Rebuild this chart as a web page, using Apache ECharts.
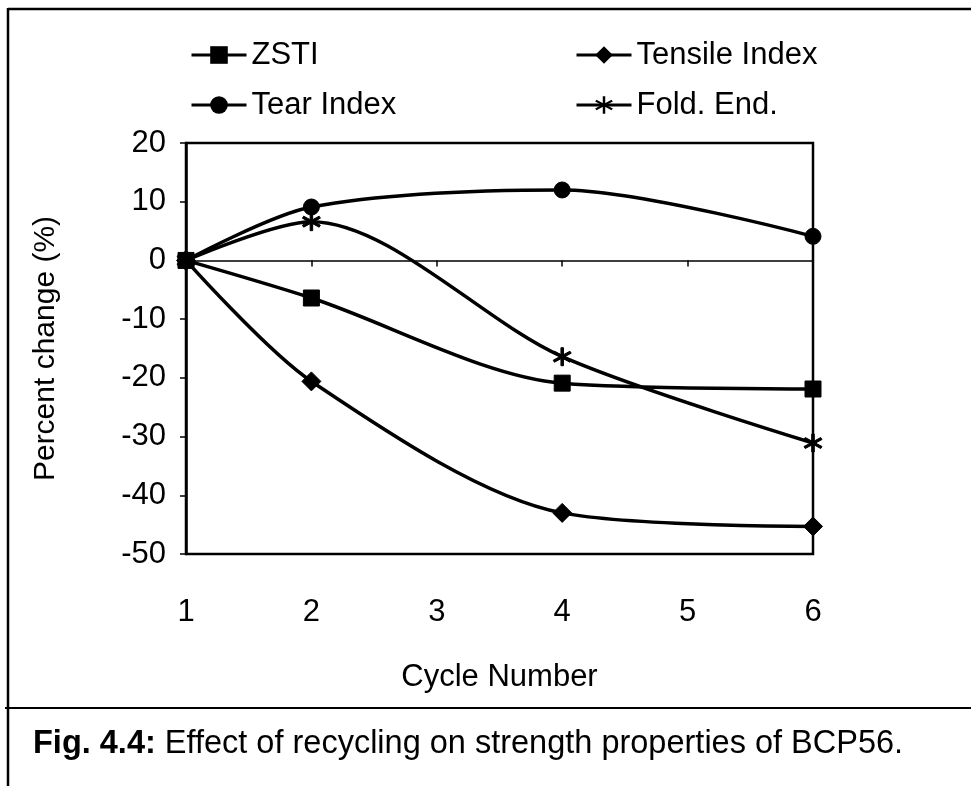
<!DOCTYPE html>
<html>
<head>
<meta charset="utf-8">
<script src="https://cdn.jsdelivr.net/npm/echarts@6/dist/echarts.min.js"></script>
<style>
  html, body { margin: 0; padding: 0; background: #fff; }
  #chart { width: 971px; height: 786px; }
</style>
</head>
<body>
<div id="chart"></div>
<script>
// Recycling cycles and percent change of each strength property
const cycles = [1, 2, 4, 6];
const zsti = [0, -6.4, -20.9, -21.9];
const tensileIndex = [0, -20.6, -43.0, -45.3];
const tearIndex = [0, 9.1, 12.0, 4.1];
const foldEnd = [0, 6.6, -16.4, -31.1];
const xTicks = [1, 2, 3, 4, 5, 6];
const yTicks = [-50, -40, -30, -20, -10, 0, 10, 20];

const FONT = '"Liberation Sans", Arial, sans-serif';

// six-armed asterisk marker built from three bars
const asterisk = 'path://M-1.3,-10L1.3,-10L1.3,10L-1.3,10Z' +
  'M9.3,3.9L8,6.1L-9.3,-3.9L-8,-6.1Z' +
  'M9.3,-3.9L-8,6.1L-9.3,3.9L8,-6.1Z';

function pairs(vals) { return cycles.map((c, i) => [c, vals[i]]); }

function lineSeries(name, vals, symbol, size) {
  return {
    name: name,
    type: 'line',
    data: pairs(vals),
    smooth: 0.3,
    symbol: symbol,
    symbolSize: size,
    lineStyle: { color: '#000', width: 3.5 },
    itemStyle: { color: '#000', borderColor: '#000' },
    z: 5
  };
}

const chart = echarts.init(document.getElementById('chart'), null, { renderer: 'canvas' });

const legendText = { color: '#000', fontSize: 31, fontFamily: FONT, lineHeight: 34 };

function legendAt(names, left) {
  return {
    data: names,
    orient: 'vertical', left: left, top: 38, padding: 0,
    itemWidth: 55, itemHeight: 22, itemGap: 16,
    lineStyle: { width: 3, color: '#000' },
    itemStyle: { color: '#000' },
    textStyle: legendText, inactiveColor: '#000'
  };
}

chart.setOption({
  animation: false,
  backgroundColor: '#fff',
  textStyle: { fontFamily: FONT, color: '#000' },
  grid: {
    left: 186, right: 158, top: 143, bottom: 232,
    show: true, borderColor: '#000', borderWidth: 2.5, backgroundColor: 'transparent'
  },
  legend: [
    legendAt(['ZSTI', 'Tear Index'], 190),
    legendAt(['Tensile Index', 'Fold. End.'], 575)
  ],
  xAxis: [
    {
      // axis through zero with tick marks
      type: 'value', min: 1, max: 6, interval: 1,
      axisLine: { show: true, onZero: true, lineStyle: { color: '#000', width: 1.5 } },
      axisTick: { show: true, length: 6, lineStyle: { color: '#000', width: 1.5 } },
      axisLabel: { show: false },
      splitLine: { show: false }
    },
    {
      // cycle numbers along the bottom
      type: 'value', min: 1, max: 6, interval: 1, position: 'bottom',
      axisLine: { show: false, onZero: false },
      axisTick: { show: false },
      axisLabel: {
        show: true, margin: 43, fontSize: 31, color: '#000', fontFamily: FONT,
        formatter: v => (xTicks.indexOf(v) >= 0 ? String(v) : '')
      },
      splitLine: { show: false },
      name: 'Cycle Number', nameLocation: 'middle', nameGap: 108,
      nameTextStyle: { fontSize: 31, color: '#000', fontFamily: FONT }
    }
  ],
  yAxis: {
    type: 'value', min: yTicks[0], max: yTicks[yTicks.length - 1], interval: 10,
    axisLine: { show: true, lineStyle: { color: '#000', width: 2.5 } },
    axisTick: { show: true, inside: false, length: 6, lineStyle: { color: '#000', width: 1.5 } },
    axisLabel: { margin: 20, fontSize: 31, color: '#000', fontFamily: FONT },
    splitLine: { show: false },
    name: 'Percent change (%)', nameLocation: 'middle', nameGap: 125,
    nameTextStyle: { fontSize: 30, color: '#000', fontFamily: FONT }
  },
  series: [
    lineSeries('ZSTI', zsti, 'rect', 16),
    lineSeries('Tensile Index', tensileIndex, 'diamond', 19),
    lineSeries('Tear Index', tearIndex, 'circle', 16),
    lineSeries('Fold. End.', foldEnd, asterisk, 18)
  ],
  graphic: [
    // page frame and divider above the caption
    { type: 'line', shape: { x1: 8, y1: 8, x2: 8, y2: 786 }, style: { stroke: '#000', lineWidth: 2.5 } },
    { type: 'line', shape: { x1: 8, y1: 9, x2: 971, y2: 9 }, style: { stroke: '#000', lineWidth: 2.5 } },
    { type: 'line', shape: { x1: 5, y1: 708, x2: 971, y2: 708 }, style: { stroke: '#000', lineWidth: 2 } },
    {
      type: 'text', left: 33, top: 728,
      style: {
        text: '{b|Fig. 4.4:} Effect of recycling on strength properties of BCP56.',
        fontSize: 32.5, fontFamily: FONT, fill: '#000',
        rich: { b: { fontWeight: 'bold', fontSize: 32.5, fontFamily: FONT, fill: '#000' } }
      }
    }
  ]
});
</script>
</body>
</html>
